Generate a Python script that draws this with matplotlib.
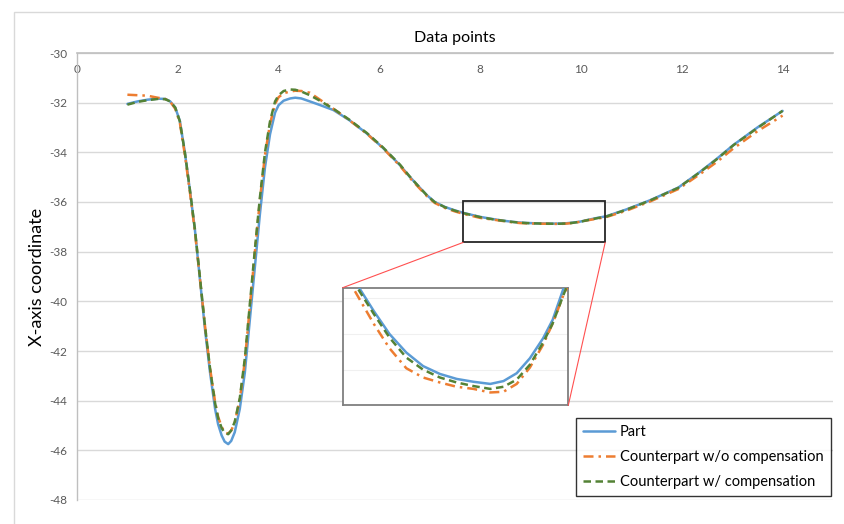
import matplotlib
matplotlib.use("Agg")
import matplotlib.pyplot as plt
from matplotlib.patches import Rectangle, ConnectionPatch

plt.rcParams['font.family'] = ['Lato', 'DejaVu Sans']
plt.rcParams['axes.unicode_minus'] = False

# ---------------- data ----------------
x_pts = [1.0, 1.2, 1.4, 1.6, 1.75, 1.85, 1.95, 2.04, 2.14, 2.24, 2.34, 2.44, 2.54, 2.64,
         2.74, 2.8, 2.87, 2.93, 3.0, 3.06, 3.13, 3.23, 3.33, 3.43, 3.53, 3.63, 3.73, 3.83,
         3.93, 4.0, 4.1, 4.23, 4.33, 4.45, 4.62, 4.8, 5.09, 5.4, 5.75, 6.07, 6.41, 6.6, 6.8,
         6.95, 7.1, 7.3, 7.5, 7.67, 8.0, 8.26, 8.4, 8.52, 8.65, 8.79, 8.93, 9.07, 9.21, 9.35,
         9.49, 9.6, 9.71, 9.82, 9.93, 10.01, 10.1, 10.3, 10.51, 10.9, 11.37, 11.93, 12.36,
         12.7, 13.02, 13.5, 14.0]

part = [-32.05, -31.95, -31.88, -31.84, -31.85, -31.95, -32.2, -32.73, -34.0, -35.53, -37.13,
        -39.13, -41.13, -42.87, -44.33, -44.95, -45.4, -45.65, -45.75, -45.62, -45.27, -44.33,
        -42.87, -40.73, -38.6, -36.47, -34.6, -33.27, -32.4, -32.1, -31.92, -31.83, -31.8,
        -31.83, -31.95, -32.08, -32.3, -32.7, -33.24, -33.82, -34.52, -34.98, -35.42,
        -35.74, -36.0, -36.2, -36.34, -36.44, -36.6, -36.69, -36.736, -36.768, -36.80, -36.826,
        -36.845, -36.856, -36.863, -36.867, -36.870, -36.866, -36.855, -36.834, -36.806,
        -36.780, -36.736, -36.65, -36.57, -36.3, -35.93, -35.42, -34.79, -34.25, -33.71,
        -33.0, -32.33]

counter_wo = [-31.68, -31.7, -31.72, -31.8, -31.85, -31.96, -32.25, -32.8, -34.1, -35.6, -37.2,
              -39.1, -41.0, -42.7, -44.05, -44.65, -45.05, -45.28, -45.33, -45.2, -44.88, -43.95,
              -42.4, -40.2, -38.0, -35.9, -34.1, -32.85, -32.05, -31.78, -31.62, -31.55, -31.52,
              -31.53, -31.6, -31.85, -32.25, -32.7, -33.25, -33.83, -34.55, -35.02, -35.46,
              -35.78, -36.04, -36.24, -36.38, -36.48, -36.64, -36.71, -36.751, -36.786, -36.82,
              -36.848, -36.861, -36.868, -36.874, -36.877, -36.882, -36.881, -36.870, -36.847,
              -36.815, -36.785, -36.745, -36.68, -36.6, -36.35, -35.98, -35.48, -34.88, -34.38,
              -33.85, -33.15, -32.52]

counter_w = [-32.08, -31.97, -31.9, -31.85, -31.86, -31.95, -32.2, -32.75, -34.0, -35.5, -37.1,
             -39.05, -41.0, -42.7, -44.1, -44.7, -45.1, -45.3, -45.35, -45.2, -44.85, -43.9,
             -42.3, -40.1, -37.9, -35.8, -34.0, -32.75, -31.95, -31.7, -31.53, -31.47, -31.48,
             -31.55, -31.7, -31.9, -32.25, -32.68, -33.22, -33.8, -34.5, -34.97, -35.42,
             -35.75, -36.01, -36.21, -36.35, -36.45, -36.61, -36.70, -36.74, -36.772, -36.805,
             -36.833, -36.850, -36.861, -36.868, -36.873, -36.877, -36.874, -36.864, -36.843,
             -36.812, -36.785, -36.745, -36.66, -36.58, -36.31, -35.94, -35.43, -34.8, -34.27,
             -33.72, -33.02, -32.33]

series_labels = ["Part", "Counterpart w/o compensation", "Counterpart w/ compensation"]
x_ticks = [0, 2, 4, 6, 8, 10, 12, 14]
y_ticks = [-30, -32, -34, -36, -38, -40, -42, -44, -46, -48]
zoom_box = (7.66, 10.48, -37.63, -35.95)   # x0, x1, y0, y1
inset_xlim = (8.26, 10.14)
inset_ylim = (-36.90, -36.735)
inset_grid = [-36.75, -36.80, -36.85]

# ---------------- styles ----------------
C_BLUE = "#5b9bd5"
C_ORANGE = "#ed7d31"
C_GREEN = "#548235"

fig = plt.figure(figsize=(8.44, 5.24), dpi=100)
fig.patch.set_facecolor("white")
# outer chart frame
fig.add_artist(Rectangle((14 / 844, -0.05), 1.0, 1 - 12 / 524 + 0.05, transform=fig.transFigure,
                         fill=False, edgecolor="#d9d9d9", linewidth=1.0))

ax = fig.add_axes([77 / 844, 1 - 500 / 524, (833 - 77) / 844, (500 - 53) / 524])


def draw_series(a, lw):
    a.plot(x_pts, part, color=C_BLUE, lw=lw, solid_capstyle="round", solid_joinstyle="round",
           label=series_labels[0], zorder=3)
    a.plot(x_pts, counter_wo, color=C_ORANGE, lw=lw, dashes=(4, 2, 1, 2), label=series_labels[1], zorder=4)
    a.plot(x_pts, counter_w, color=C_GREEN, lw=lw, dashes=(3, 1.8), label=series_labels[2], zorder=5)


draw_series(ax, 1.8)
ax.set_xlim(0, 15)
ax.set_ylim(-48, -30)
ax.set_xticks(x_ticks)
ax.set_yticks(y_ticks)
for yv in y_ticks:
    ax.axhline(yv, color="#d9d9d9", lw=1.0, zorder=0)
for s in ["right", "bottom"]:
    ax.spines[s].set_visible(False)
ax.spines["top"].set_color("#bfbfbf")
ax.spines["top"].set_linewidth(1.2)
ax.spines["left"].set_color("#bfbfbf")
ax.spines["left"].set_linewidth(1.0)
ax.tick_params(axis="x", top=True, bottom=False, labeltop=True, labelbottom=False,
               length=0, pad=-16, labelsize=8.5, labelcolor="#595959")
ax.tick_params(axis="y", length=0, pad=7, labelsize=8.5, labelcolor="#595959")
ax.set_title("Data points", fontsize=11.5, pad=8, color="#000000")
ax.set_ylabel("X-axis coordinate", fontsize=13, labelpad=3)

# zoom rectangle
ax.add_patch(Rectangle((zoom_box[0], zoom_box[2]), zoom_box[1] - zoom_box[0],
                       zoom_box[3] - zoom_box[2], fill=False, edgecolor="#262626",
                       lw=1.3, zorder=6))

# inset
ins = fig.add_axes([342.7 / 844, 1 - 405.3 / 524, (568.3 - 342.7) / 844, (405.3 - 287.7) / 524])
ins.set_facecolor("white")
draw_series(ins, 1.8)
ins.set_xlim(*inset_xlim)
ins.set_ylim(*inset_ylim)
for yv in inset_grid:
    ins.axhline(yv, color="#f0f0f0", lw=0.8, zorder=0)
ins.set_xticks([])
ins.set_yticks([])
for s in ins.spines.values():
    s.set_color("#7f7f7f")
    s.set_linewidth(1.3)

for xyA, xyB in [((zoom_box[0], zoom_box[2]), (0, 1)), ((zoom_box[1], zoom_box[2]), (1, 0))]:
    con = ConnectionPatch(xyA=xyA, coordsA=ax.transData, xyB=xyB, coordsB=ins.transAxes,
                          color="#ff5050", lw=0.8)
    fig.add_artist(con)

# legend
handles, labels = ax.get_legend_handles_labels()
leg = fig.legend(handles, labels, loc="upper left", bbox_to_anchor=(576 / 844, 1 - 418 / 524),
                 fontsize=10.5, frameon=True, fancybox=False, handlelength=2.2,
                 handletextpad=0.3, borderpad=0.5, labelspacing=0.75, borderaxespad=0)
leg.get_frame().set_edgecolor("black")
leg.get_frame().set_linewidth(1.0)

fig.savefig("out.png", dpi=100, facecolor="white")
